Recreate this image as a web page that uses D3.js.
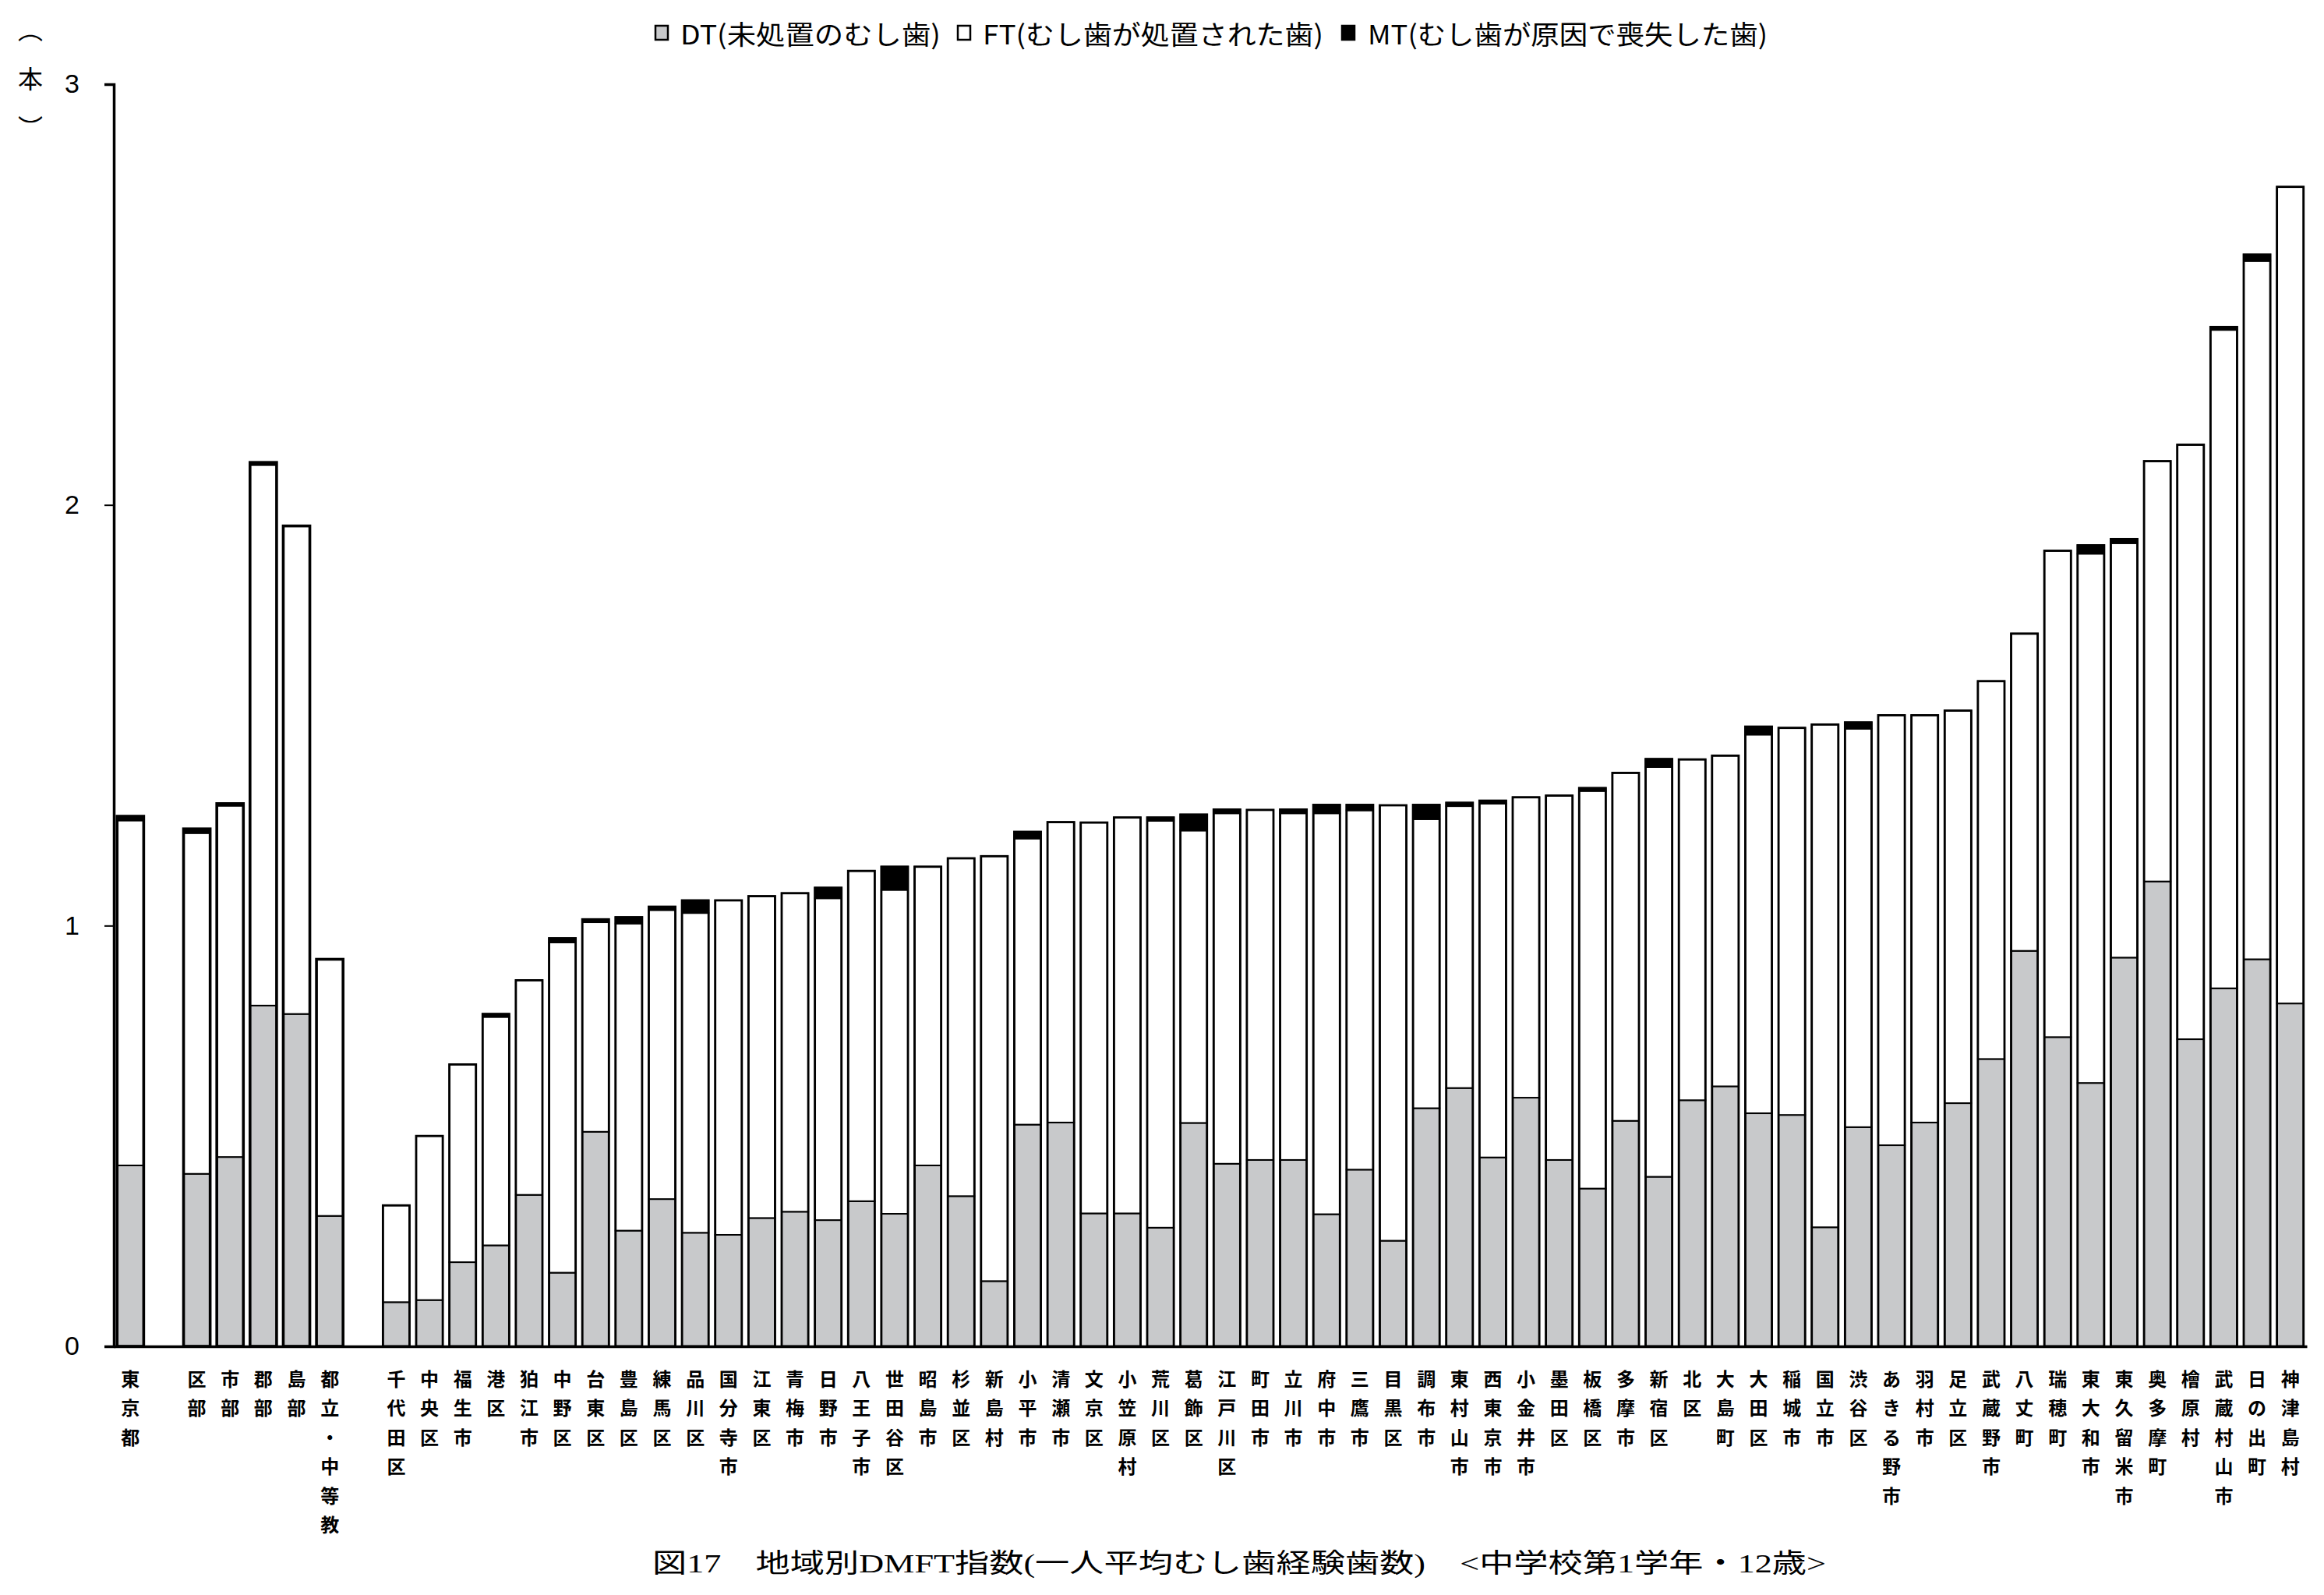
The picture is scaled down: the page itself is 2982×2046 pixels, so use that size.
<!DOCTYPE html>
<html><head><meta charset="utf-8">
<script src="https://cdn.jsdelivr.net/npm/d3@7"></script>
<style>body{margin:0;background:#fff} svg{display:block}</style>
</head><body>
<svg id="chart" width="2982" height="2046"></svg>
<script>
// ---- data ----
const categories = ["東京都", "", "区部", "市部", "郡部", "島部", "都立・中等教", "",
  "千代田区","中央区","福生市","港区","狛江市","中野区","台東区","豊島区","練馬区","品川区",
  "国分寺市","江東区","青梅市","日野市","八王子市","世田谷区","昭島市","杉並区","新島村","小平市",
  "清瀬市","文京区","小笠原村","荒川区","葛飾区","江戸川区","町田市","立川市","府中市","三鷹市",
  "目黒区","調布市","東村山市","西東京市","小金井市","墨田区","板橋区","多摩市","新宿区","北区",
  "大島町","大田区","稲城市","国立市","渋谷区","あきる野市","羽村市","足立区","武蔵野市","八丈町",
  "瑞穂町","東大和市","東久留米市","奥多摩町","檜原村","武蔵村山市","日の出町","神津島村"];
const dtValues = [0.43, null, 0.41, 0.45, 0.81, 0.79, 0.31, null,
  0.105,0.11,0.20,0.24,0.36,0.175,0.51,0.275,0.35,0.27,
  0.265,0.305,0.32,0.30,0.345,0.315,0.43,0.357,0.155,0.527,
  0.532,0.316,0.316,0.282,0.531,0.434,0.443,0.443,0.314,0.42,
  0.251,0.566,0.614,0.449,0.591,0.443,0.375,0.536,0.403,0.585,
  0.618,0.554,0.55,0.283,0.521,0.478,0.532,0.578,0.683,0.94,
  0.735,0.626,0.924,1.105,0.73,0.851,0.92,0.815];
const ftValues = [0.82, null, 0.81, 0.835, 1.285, 1.16, 0.61, null,
  0.23,0.39,0.47,0.543,0.51,0.785,0.498,0.73,0.687,0.76,
  0.795,0.765,0.757,0.765,0.785,0.77,0.71,0.803,1.01,0.68,
  0.714,0.929,0.941,0.967,0.695,0.833,0.832,0.824,0.953,0.854,
  1.035,0.687,0.67,0.841,0.714,0.866,0.945,0.827,0.974,0.81,
  0.786,0.90,0.92,1.195,0.947,1.022,0.968,0.933,0.898,0.754,
  1.156,1.258,0.985,0.999,1.413,1.565,1.66,1.941];
const mtValues = [0.01, null, 0.01, 0.005, 0.006, 0, 0, null,
  0,0,0,0.007,0,0.01,0.007,0.015,0.008,0.03,
  0,0,0,0.025,0,0.055,0,0,0,0.016,
  0,0,0,0.008,0.038,0.009,0,0.009,0.02,0.013,
  0,0.034,0.008,0.007,0,0,0.007,0,0.019,0,
  0,0.019,0,0,0.015,0,0,0,0,0,
  0,0.02,0.01,0,0,0.007,0.015,0];
const seriesKeys = ["DT", "FT", "MT"];
const legendLabels = ["DT(未処置のむし歯)", "FT(むし歯が処置された歯)", "MT(むし歯が原因で喪失した歯)"];
const yTicks = [0, 1, 2, 3];
const unitLabel = "（本）";
const titleText = "図17　地域別DMFT指数(一人平均むし歯経験歯数)　<中学校第1学年・12歳>";

// ---- layout ----
const colors = {DT: "#c8c9cb", FT: "#ffffff", MT: "#000000"};
const svg = d3.select("#chart");
const plotLeft = 146, plotRight = 2960, plotTop = 108, plotBottom = 1727;

const rows = categories.map((c, i) => ({idx: i, name: c, DT: dtValues[i], FT: ftValues[i], MT: mtValues[i]}));
const bars = rows.filter(r => r.name);

const x = d3.scaleBand().domain(rows.map(r => r.idx)).range([plotLeft, plotRight]).paddingInner(0.2).paddingOuter(0.1);
const y = d3.scaleLinear().domain([0, 3]).range([plotBottom, plotTop]);

const stacked = d3.stack().keys(seriesKeys)(bars);

const g = svg.append("g");
stacked.forEach(layer => {
  g.append("g").selectAll("rect").data(layer.filter(d => d[1] - d[0] > 0)).join("rect")
    .attr("x", d => x(d.data.idx))
    .attr("width", x.bandwidth())
    .attr("y", d => y(d[1]))
    .attr("height", d => y(d[0]) - y(d[1]))
    .attr("fill", colors[layer.key])
    .attr("stroke", "#000")
    .attr("stroke-width", 2);
});
// outer outlines
g.append("g").selectAll("rect").data(bars).join("rect")
  .attr("x", d => x(d.idx))
  .attr("width", x.bandwidth())
  .attr("y", d => y(d.DT + d.FT + d.MT))
  .attr("height", d => y(0) - y(d.DT + d.FT + d.MT))
  .attr("fill", "none")
  .attr("stroke", "#000")
  .attr("stroke-width", d => d.idx < 8 ? 3.6 : 2.8);

// axes
const yAxis = d3.axisLeft(y).tickValues(yTicks).tickSize(12).tickPadding(32).tickFormat(d3.format("d"));
const ya = svg.append("g").attr("transform", `translate(${plotLeft},0)`).call(yAxis);
ya.select(".domain").attr("stroke", "#000").attr("stroke-width", 3.5);
ya.selectAll(".tick line").attr("stroke", "#000").attr("stroke-width", 2);
ya.selectAll(".tick text").attr("font-family", "Liberation Sans, Arial, sans-serif").attr("font-size", 34).attr("fill", "#000");

const xa = svg.append("g").attr("transform", `translate(0,${plotBottom})`)
  .call(d3.axisBottom(x).tickSize(0).tickFormat(""));
xa.select(".domain").attr("stroke", "#000").attr("stroke-width", 3.5);

// category labels (stacked characters)
const lab = svg.append("g").attr("font-family", "Noto Sans CJK JP, sans-serif").attr("font-weight", 700)
  .attr("font-size", 24).attr("fill", "#000").attr("text-anchor", "middle");
bars.forEach(b => {
  Array.from(b.name).forEach((ch, k) => {
    lab.append("text").attr("x", x(b.idx) + x.bandwidth() / 2).attr("y", 1767 + k * 37.5)
      .attr("dominant-baseline", "central").text(ch);
  });
});

// unit label (vertical)
svg.append("text").attr("x", 39).attr("y", 22)
  .attr("font-family", "Noto Sans CJK JP, sans-serif").attr("font-size", 32).attr("fill", "#000")
  .style("writing-mode", "vertical-rl").style("letter-spacing", "31px")
  .text(unitLabel);

// legend
const legX = [841, 1229, 1722], legTextX = [873, 1261, 1755], legLen = [334, 437, 513];
const leg = svg.append("g");
seriesKeys.forEach((k, i) => {
  leg.append("rect").attr("x", legX[i]).attr("y", 33).attr("width", 16).attr("height", 18)
    .attr("fill", colors[k]).attr("stroke", "#000").attr("stroke-width", 2.5);
  leg.append("text").attr("x", legTextX[i]).attr("y", 42).attr("dominant-baseline", "central")
    .attr("font-family", "Noto Sans CJK JP, sans-serif").attr("font-size", 34).attr("fill", "#000")
    .attr("textLength", legLen[i]).attr("lengthAdjust", "spacingAndGlyphs").text(legendLabels[i]);
});

// title
svg.append("text").attr("x", 837).attr("y", 2005).attr("dominant-baseline", "central")
  .attr("font-family", "Liberation Serif, Noto Sans CJK JP, serif").attr("font-size", 34).attr("fill", "#000")
  .attr("textLength", 1506).attr("lengthAdjust", "spacingAndGlyphs").text(titleText);
</script>
</body></html>
